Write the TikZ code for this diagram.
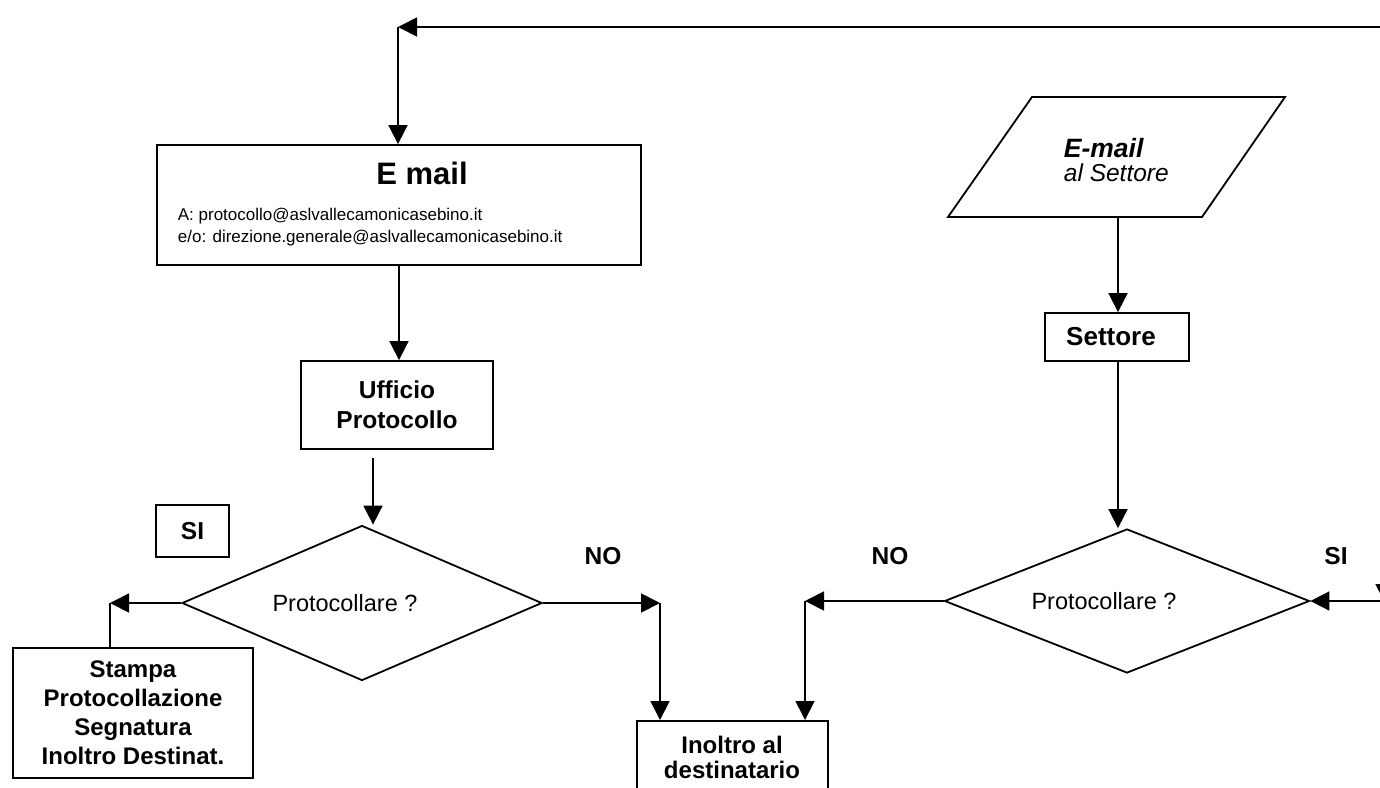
\documentclass[tikz,border=0pt]{standalone}
\usepackage{fontspec}
\setmainfont{Liberation Sans}
\usetikzlibrary{arrows.meta,shapes.geometric,calc}
\begin{document}
\begin{tikzpicture}[x=1pt,y=-1pt, line width=1.8pt,
  >={Triangle[length=19pt,width=19pt]},
  box/.style={draw, rectangle, inner sep=0pt, line width=1.8pt},
  dia/.style={draw, diamond, inner sep=0pt, line width=1.8pt},
  lbl/.style={align=center, inner sep=0pt, font=\fontsize{24.5}{30}\selectfont\bfseries},
  plain/.style={inner sep=0pt, font=\fontsize{23.5}{28}\selectfont}]
\useasboundingbox (0,0) rectangle (1380,787);
\clip (0,0) rectangle (1380,787);

% E mail box
\node[box, minimum width=484, minimum height=120] (email) at (399,205) {};
\node[inner sep=0pt, font=\fontsize{31}{36}\selectfont\bfseries] (emailT) at (422,173) {E mail};
\node[anchor=west, inner sep=0pt, font=\fontsize{17}{20}\selectfont] (emailA) at (177,216) {A: protocollo@aslvallecamonicasebino.it};
\node[anchor=west, inner sep=0pt, font=\fontsize{17}{20}\selectfont] (emailB) at (177,238) {e/o: direzione.generale@aslvallecamonicasebino.it};

% Ufficio Protocollo
\node[box, minimum width=192, minimum height=88, lbl] (uff) at (397,405) {Ufficio\\Protocollo};

% SI box
\node[box, minimum width=73, minimum height=52, lbl] (si) at (192.5,531) {SI};

% Diamond 1
\node[dia, minimum width=360, minimum height=155, aspect=2.3] (d1) at (362,603) {};
\node[plain] (d1T) at (345,603) {Protocollare ?};

% Stampa
\node[box, minimum width=240, minimum height=130, align=center, font=\fontsize{24}{29}\selectfont\bfseries] (stampa) at (133,713) {Stampa\\Protocollazione\\Segnatura\\Inoltro Destinat.};

% Inoltro
\node[box, minimum width=191, minimum height=100, anchor=north] (inoltro) at (732.5,720) {};
\node[align=center, inner sep=0pt, font=\fontsize{24}{25}\selectfont\bfseries] (inoltroT) at (732,757) {Inoltro al\\destinatario};

% Parallelogram
\coordinate (pTL) at (1032,97);
\coordinate (pTR) at (1285,97);
\coordinate (pBR) at (1202,217);
\coordinate (pBL) at (948,217);
\draw (pTL) -- (pTR) -- (pBR) -- (pBL) -- cycle;
\node[anchor=west, inner sep=0pt, font=\fontsize{26.5}{30}\selectfont\bfseries\itshape] (parT1) at (1063,148) {E-mail};
\node[anchor=west, inner sep=0pt, font=\fontsize{24.5}{28}\selectfont\itshape] (parT2) at (1063,173) {al Settore};
\coordinate (parB) at (1118,217);

% Settore
\node[box, minimum width=144, minimum height=48] (settore) at (1117,337) {};
\node[inner sep=0pt, font=\fontsize{26}{30}\selectfont\bfseries] (settoreT) at (1111,337) {Settore};

% Diamond 2
\node[dia, minimum width=365, minimum height=144, aspect=2.5] (d2) at (1127,601) {};
\node[plain] (d2T) at (1104,601) {Protocollare ?};

% Labels
\node[lbl] (no1) at (603,556) {NO};
\node[lbl] (no2) at (890,556) {NO};
\node[lbl] (si2) at (1336,556) {SI};

% Connectors
\coordinate (topL) at (398,27);
\coordinate (topR) at (1395,27);
\draw[->] (topR) -- (topL);
\draw[->] (topL) -- (topL |- email.north);
\draw[->] (email.south) -- (email.south |- uff.north);
\coordinate (uffOut) at (373,458);
\draw[->] (uffOut) -- (uffOut |- d1.north);

\coordinate (cL) at (110,603);
\draw[->] (d1.west) -- (cL);
\draw (stampa.north -| cL) -- (cL);

\coordinate (cR) at (660,603);
\draw[->] (d1.east) -- (cR);
\draw[->] (cR) -- (cR |- inoltro.north);

\coordinate (cM) at (805,601);
\draw[->] (d2.west) -- (cM);
\draw[->] (cM) -- (cM |- inoltro.north);

\coordinate (rIn) at (1395,601);
\draw[->] (rIn) -- (d2.east);
\coordinate (rTop) at (1385,480);
\coordinate (rBot) at (1385,603);
\draw[->] (rTop) -- (rBot);

\draw[->] (parB) -- (parB |- settore.north);
\draw[->] (settore.south -| parB) -- (parB |- d2.north);
\end{tikzpicture}
\end{document}
